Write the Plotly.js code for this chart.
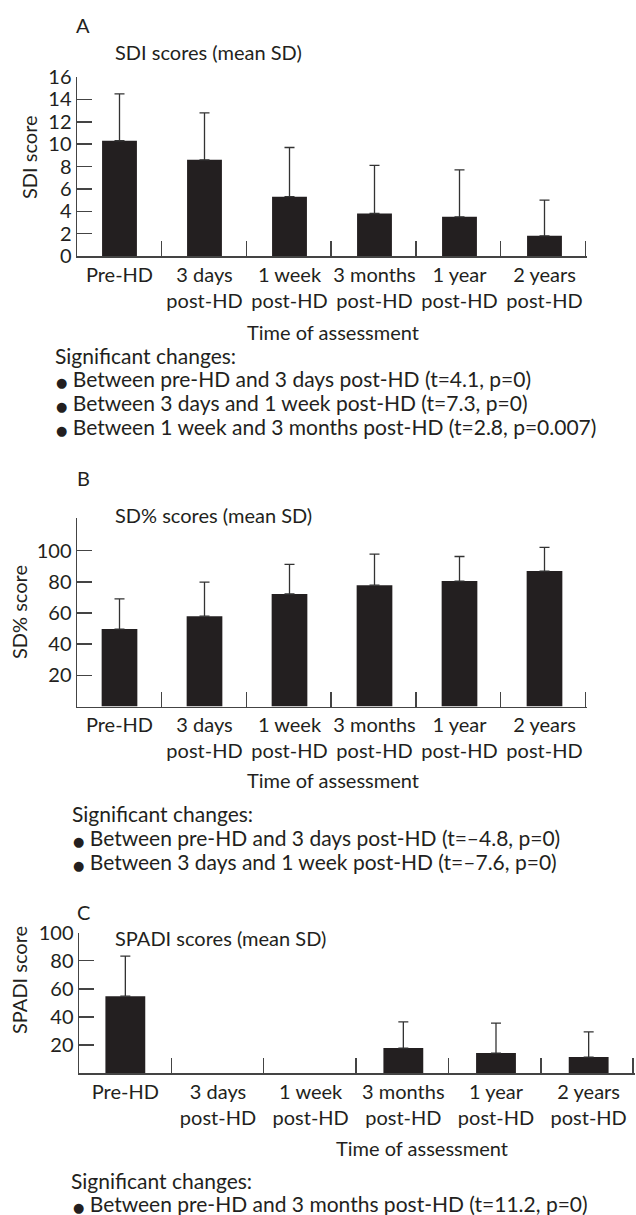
<!DOCTYPE html>
<html>
<head>
<meta charset="utf-8">
<script src="https://cdn.plot.ly/plotly-3.0.1.min.js"></script>
<style>html,body{margin:0;padding:0;background:#fff;}#chart{width:636px;height:1215px;}</style>
</head>
<body>
<div id="chart"></div>
<script>
// ---- data ----
const categories = ['Pre-HD', '3 days<br>post-HD', '1 week<br>post-HD', '3 months<br>post-HD', '1 year<br>post-HD', '2 years<br>post-HD'];
const sdiMean = [10.3, 8.6, 5.3, 3.8, 3.5, 1.8];
const sdiSD = [4.2, 4.2, 4.4, 4.3, 4.2, 3.2];
const sdpMean = [49.7, 58.0, 72.2, 77.9, 80.5, 86.9];
const sdpSD = [19.4, 21.9, 19.0, 19.9, 15.8, 15.2];
const spadiMean = [54.8, null, null, 17.9, 14.3, 11.5];
const spadiSD = [28.5, null, null, 18.6, 21.3, 17.9];
const sdiTicks = [0, 2, 4, 6, 8, 10, 12, 14, 16];
const pctTicks = [20, 40, 60, 80, 100];
const separatorTicks = [0.5, 1.5, 2.5, 3.5, 4.5, 5.5];
const notesA = ['Between pre-HD and 3 days post-HD (t=4.1, p=0)', 'Between 3 days and 1 week post-HD (t=7.3, p=0)', 'Between 1 week and 3 months post-HD (t=2.8, p=0.007)'];
const notesB = ['Between pre-HD and 3 days post-HD (t=\u20134.8, p=0)', 'Between 3 days and 1 week post-HD (t=\u20137.6, p=0)'];
const notesC = ['Between pre-HD and 3 months post-HD (t=11.2, p=0)'];

// ---- style ----
const W = 636, H = 1215;
const FONT = 'Lato, sans-serif';
const FS = 20;
const FS_NOTE = 21;
const INK = '#231f20';
const AX = '#444';
const px = v => v / W;
const py = v => 1 - v / H;

function barTrace(y, sd, xa, ya, w) {
  return {
    type: 'bar', x: categories, y: y, xaxis: xa, yaxis: ya, width: w,
    marker: {color: INK, line: {width: 0}},
    error_y: {type: 'data', symmetric: false, array: sd, arrayminus: sd.map(() => 0),
              color: '#333', thickness: 1.3, width: 5},
    hoverinfo: 'skip'
  };
}
// invisible helper trace so the separator-tick axis is instantiated
function sepTrace(xa, ya) {
  return {type: 'scatter', mode: 'markers', x: separatorTicks, y: separatorTicks.map(() => null),
    xaxis: xa, yaxis: ya, marker: {opacity: 0}, hoverinfo: 'skip', showlegend: false};
}

function xAxis(dom, anchor) {
  return {domain: dom, anchor: anchor, type: 'category', range: [-0.5, 5.5],
    showline: true, linecolor: AX, linewidth: 1.5, ticks: '', showgrid: false, zeroline: false,
    tickfont: {family: FONT, size: FS, color: INK}, fixedrange: true};
}
function sepAxis(over, anchor) {
  // range end pushed a hair past 5.5 so the closing separator tick is not clipped
  return {overlaying: over, anchor: anchor, side: 'bottom', type: 'linear', range: [-0.5, 5.52],
    tickmode: 'array', tickvals: separatorTicks, ticks: 'inside', ticklen: 15, tickwidth: 1.5, tickcolor: AX,
    showticklabels: false, showline: false, showgrid: false, zeroline: false, fixedrange: true};
}
function yAxis(dom, anchor, range, vals) {
  return {domain: dom, anchor: anchor, range: range, tickvals: vals, ticktext: vals.map(String),
    showline: true, linecolor: AX, linewidth: 1.5, ticks: 'inside', ticklen: 15, tickwidth: 1.5,
    tickcolor: AX, showgrid: false, zeroline: false,
    tickfont: {family: FONT, size: FS, color: INK}, fixedrange: true};
}

const data = [
  barTrace(sdiMean, sdiSD, 'x', 'y', 0.41),
  barTrace(sdpMean, sdpSD, 'x2', 'y2', 0.42),
  barTrace(spadiMean, spadiSD, 'x3', 'y3', 0.43),
  sepTrace('x4', 'y'),
  sepTrace('x5', 'y2'),
  sepTrace('x6', 'y3')
];

const ann = [];
function txt(t, x, y, opts) {
  ann.push(Object.assign({text: t, x: px(x), y: py(y), xref: 'paper', yref: 'paper',
    showarrow: false, xanchor: 'left', yanchor: 'middle',
    font: {family: FONT, size: FS, color: INK}}, opts || {}));
}
const bullet = '<span style="font-family:\'DejaVu Sans\';font-size:13px">\u25CF</span> ';
const note = {font: {family: FONT, size: FS_NOTE, color: INK}};

// Panel A
txt('A', 83, 25, {xanchor: 'center'});
txt('SDI scores (mean SD)', 113, 52);
txt('SDI score', 29, 157, {xanchor: 'center', textangle: -90});
txt('Time of assessment', 333, 332, {xanchor: 'center'});
txt('Significant changes:', 53, 355, note);
notesA.forEach((n, i) => txt(bullet + n, 54, 378 + i * 24.3, note));

// Panel B
txt('B', 83, 478, {xanchor: 'center'});
txt('SD% scores (mean SD)', 113, 515);
txt('SD% score', 19, 612, {xanchor: 'center', textangle: -90});
txt('Time of assessment', 333, 780, {xanchor: 'center'});
txt('Significant changes:', 70, 813, note);
notesB.forEach((n, i) => txt(bullet + n, 71, 837 + i * 24.5, note));

// Panel C
txt('C', 83, 912, {xanchor: 'center'});
txt('SPADI scores (mean SD)', 113, 938);
txt('SPADI score', 19, 980, {xanchor: 'center', textangle: -90});
txt('Time of assessment', 422, 1148, {xanchor: 'center'});
txt('Significant changes:', 69, 1180, note);
notesC.forEach((n, i) => txt(bullet + n, 71, 1203 + i * 24.5, note));

const layout = {
  width: W, height: H, margin: {l: 0, r: 0, t: 0, b: 0},
  paper_bgcolor: '#fff', plot_bgcolor: 'rgba(0,0,0,0)', showlegend: false,
  font: {family: FONT, size: FS, color: INK},
  xaxis: xAxis([px(77), px(587)], 'y'),
  yaxis: yAxis([py(256), py(77)], 'x', [0, 16], sdiTicks),
  xaxis2: xAxis([px(77), px(587)], 'y2'),
  yaxis2: yAxis([py(706.5), py(518)], 'x2', [0, 121], pctTicks),
  xaxis3: xAxis([px(79), px(635)], 'y3'),
  yaxis3: yAxis([py(1073.2), py(932.6)], 'x3', [0, 100], pctTicks),
  xaxis4: sepAxis('x', 'y'),
  xaxis5: sepAxis('x2', 'y2'),
  xaxis6: sepAxis('x3', 'y3'),
  annotations: ann
};

Plotly.newPlot('chart', data, layout, {displayModeBar: false, staticPlot: true});
</script>
</body>
</html>
